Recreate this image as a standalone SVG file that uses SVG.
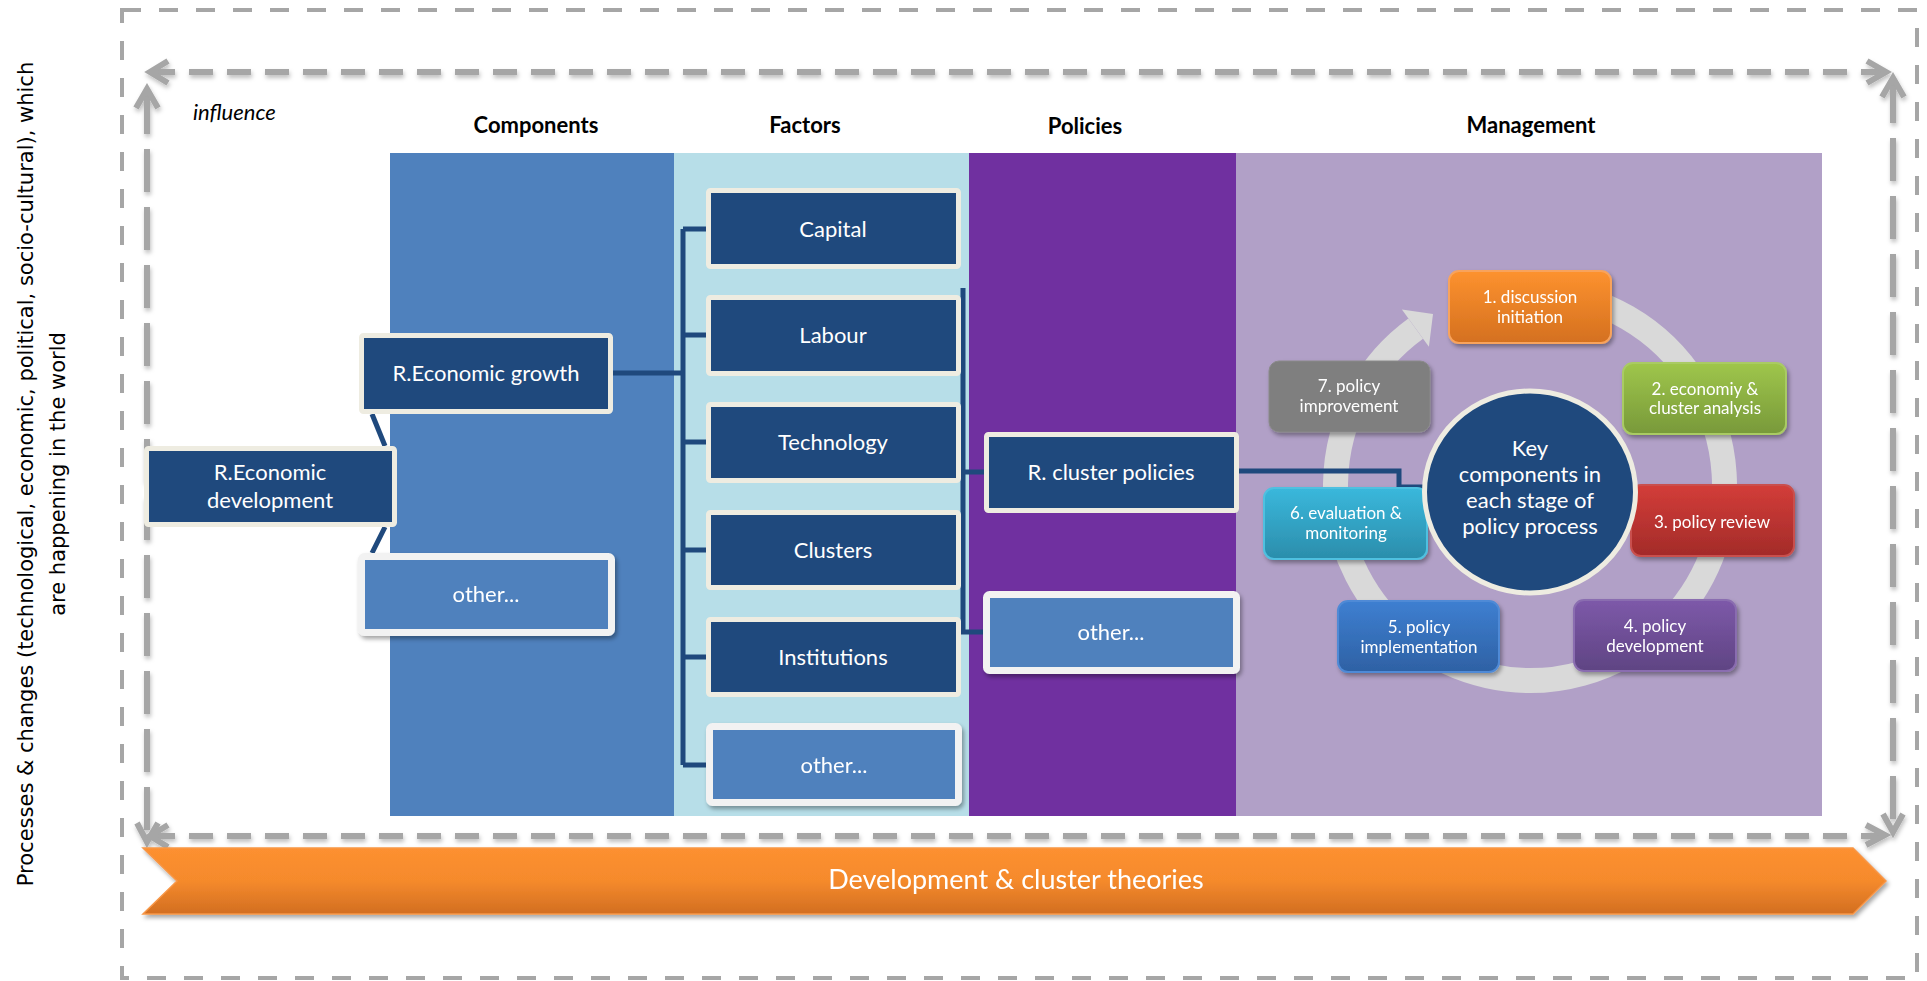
<svg xmlns="http://www.w3.org/2000/svg" width="1927" height="981" viewBox="0 0 1927 981">
<defs>
<style>
.hdr{font-family:Lato,"Liberation Sans",sans-serif;font-weight:bold;font-size:22px;fill:#000;text-anchor:middle}
.it{font-family:Lato,"Liberation Sans",sans-serif;font-style:italic;font-size:22px;fill:#000}
.nt{font-family:Lato,"Liberation Sans",sans-serif;font-size:22px;fill:#fff;text-anchor:middle}
.ct{font-family:Lato,"Liberation Sans",sans-serif;font-size:17px;fill:#fff;text-anchor:middle}
.bt{font-family:Lato,"Liberation Sans",sans-serif;font-size:27px;fill:#fff;text-anchor:middle}
.side{font-family:"DejaVu Sans",Verdana,sans-serif;font-size:21px;fill:#000;text-anchor:middle}
.dk{fill:#1f497d;stroke:#eeece1;stroke-width:5}
.ot{fill:#4f81bd;stroke:#f2f2f2;stroke-width:7}
.con{stroke:#1f497d;stroke-width:5;fill:none}
.dh{stroke:#a6a6a6;stroke-width:6;fill:none;stroke-dasharray:24 14}
.dv{stroke:#a6a6a6;stroke-width:6;fill:none;stroke-dasharray:43 15}
.ah{stroke:#a6a6a6;stroke-width:6;fill:none;stroke-linejoin:miter}
.cb{stroke-width:2}
</style>
<filter id="sh" x="-10%" y="-10%" width="120%" height="130%">
<feDropShadow dx="2" dy="3" stdDeviation="2" flood-color="#000" flood-opacity="0.35"/>
</filter>
<filter id="shl" x="-5%" y="-20%" width="110%" height="140%">
<feDropShadow dx="1" dy="3" stdDeviation="2" flood-color="#000" flood-opacity="0.25"/>
</filter>
<linearGradient id="gBand" x1="0" y1="0" x2="0" y2="1"><stop offset="0" stop-color="#fd9030"/><stop offset="0.5" stop-color="#f58a2c"/><stop offset="1" stop-color="#d26e21"/></linearGradient>
<linearGradient id="g1" x1="0" y1="0" x2="0" y2="1"><stop offset="0" stop-color="#fd922f"/><stop offset="1" stop-color="#d4701f"/></linearGradient>
<linearGradient id="g2" x1="0" y1="0" x2="0" y2="1"><stop offset="0" stop-color="#9fc64b"/><stop offset="1" stop-color="#78993a"/></linearGradient>
<linearGradient id="g3" x1="0" y1="0" x2="0" y2="1"><stop offset="0" stop-color="#d33d39"/><stop offset="1" stop-color="#a32b29"/></linearGradient>
<linearGradient id="g4" x1="0" y1="0" x2="0" y2="1"><stop offset="0" stop-color="#7d59a9"/><stop offset="1" stop-color="#5f4483"/></linearGradient>
<linearGradient id="g5" x1="0" y1="0" x2="0" y2="1"><stop offset="0" stop-color="#3e7fd1"/><stop offset="1" stop-color="#2e61a4"/></linearGradient>
<linearGradient id="g6" x1="0" y1="0" x2="0" y2="1"><stop offset="0" stop-color="#3ab8dc"/><stop offset="1" stop-color="#2b8dab"/></linearGradient>
</defs>

<rect width="1927" height="981" fill="#fff"/>

<!-- outer dashed frame -->
<rect id="frame" x="122" y="10" width="1795" height="968" fill="none" stroke="#a6a6a6" stroke-width="4" stroke-dasharray="19 18"/>

<!-- side text -->
<g id="side-text">
<text class="side" transform="translate(33,474) rotate(-90)">Processes &amp; changes (technological, economic, political, socio-cultural), which</text>
<text class="side" transform="translate(65,474) rotate(-90)">are happening in the world</text>
</g>

<!-- inner dashed influence arrows -->
<g id="influence-arrows" filter="url(#shl)">
<path class="dh" d="M151 72 H1885"/>
<path class="dh" d="M151 836 H1884"/>
<path class="dv" d="M147 91 V840"/>
<path class="dv" d="M1893 80 V830"/>
<polyline class="ah" points="168,61 150,72 168,83"/>
<polyline class="ah" points="1867,61 1886,72 1867,83"/>
<polyline class="ah" points="136,108 147,89 158,108"/>
<polyline class="ah" points="1882,97 1893,78 1904,97"/>
<polyline class="ah" points="137,823 147,842 158,823"/>
<polyline class="ah" points="1883,814 1893,832 1903,814"/>
<polyline class="ah" points="168,825 150,836 168,847"/>
<polyline class="ah" points="1866,825 1885,835 1866,845"/>
</g>
<text class="it" x="193" y="120">influence</text>

<!-- column headers -->
<text class="hdr" x="536" y="133">Components</text>
<text class="hdr" x="805" y="133">Factors</text>
<text class="hdr" x="1085" y="134">Policies</text>
<text class="hdr" x="1531" y="133">Management</text>

<!-- column backgrounds -->
<g id="columns">
<rect x="390" y="153" width="284" height="663" fill="#4f81bd"/>
<rect x="674" y="153" width="295" height="663" fill="#b7dee8"/>
<rect x="969" y="153" width="267" height="663" fill="#7030a0"/>
<rect x="1236" y="153" width="586" height="663" fill="#b1a0c7"/>
</g>

<!-- cycle ring -->
<g id="cycle-ring">
<path d="M1546.95 292.24 A194.5 194.5 0 1 1 1415.68 328.65" fill="none" stroke="#d9d9d9" stroke-width="25"/>
<polygon points="1401.9,309.6 1433,314 1428.9,346.8" fill="#d9d9d9"/>
</g>

<!-- connectors -->
<g id="connectors">
<path class="con" d="M613 373 H683"/>
<path class="con" d="M683 229 V765"/>
<path class="con" d="M683 229 H707 M683 335 H707 M683 442 H707 M683 550 H707 M683 657 H707 M683 765 H707"/>
<path class="con" d="M372 414 L385 446"/>
<path class="con" d="M385 527 L372 553"/>
<path class="con" d="M963 288 V632 H984"/>
<path class="con" d="M963 472 H985"/>
<path class="con" d="M1239 471 H1399 V487 H1423"/>
</g>

<!-- component nodes -->
<g id="n-dev"><rect class="dk" x="146.5" y="448.5" width="248" height="76" rx="2"/><text class="nt" x="270" y="480">R.Economic</text><text class="nt" x="270" y="508">development</text></g>
<g id="n-growth"><rect class="dk" x="361.5" y="335.5" width="249" height="76" rx="2"/><text class="nt" x="486" y="381">R.Economic growth</text></g>
<g id="n-comp-other" filter="url(#sh)"><rect class="ot" x="361.5" y="556.5" width="250" height="76" rx="3"/><text class="nt" x="486" y="602">other...</text></g>

<!-- factor nodes -->
<g id="n-capital"><rect class="dk" x="708.5" y="190.5" width="250" height="76" rx="2"/><text class="nt" x="833" y="237">Capital</text></g>
<g id="n-labour"><rect class="dk" x="708.5" y="297.5" width="250" height="76" rx="2"/><text class="nt" x="833" y="343">Labour</text></g>
<g id="n-technology"><rect class="dk" x="708.5" y="404.5" width="250" height="76" rx="2"/><text class="nt" x="833" y="450">Technology</text></g>
<g id="n-clusters"><rect class="dk" x="708.5" y="512.5" width="250" height="75" rx="2"/><text class="nt" x="833" y="558">Clusters</text></g>
<g id="n-institutions"><rect class="dk" x="708.5" y="619.5" width="250" height="75" rx="2"/><text class="nt" x="833" y="665">Institutions</text></g>
<g id="n-fac-other" filter="url(#sh)"><rect class="ot" x="709.5" y="726.5" width="249" height="76" rx="3"/><text class="nt" x="834" y="773">other...</text></g>

<!-- policy nodes -->
<g id="n-cluster-policies"><rect class="dk" x="986.5" y="434.5" width="250" height="76" rx="2"/><text class="nt" x="1111" y="480">R. cluster policies</text></g>
<g id="n-pol-other" filter="url(#sh)"><rect class="ot" x="986.5" y="594.5" width="250" height="76" rx="3"/><text class="nt" x="1111" y="640">other...</text></g>

<!-- management cycle nodes -->
<g id="n-step1" filter="url(#sh)"><rect class="cb" x="1449" y="271" width="162" height="72" rx="10" fill="url(#g1)" stroke="#f8a35c"/><text class="ct" x="1530" y="303">1. discussion</text><text class="ct" x="1530" y="323">initiation</text></g>
<g id="n-step2" filter="url(#sh)"><rect class="cb" x="1623" y="363" width="163" height="71" rx="10" fill="url(#g2)" stroke="#a9cb63"/><text class="ct" x="1705" y="395">2. economiy &amp;</text><text class="ct" x="1705" y="414">cluster analysis</text></g>
<g id="n-step3" filter="url(#sh)"><rect class="cb" x="1631" y="485" width="163" height="71" rx="10" fill="url(#g3)" stroke="#c9504d"/><text class="ct" x="1712" y="528">3. policy review</text></g>
<g id="n-step4" filter="url(#sh)"><rect class="cb" x="1574" y="600" width="162" height="71" rx="10" fill="url(#g4)" stroke="#8a6db0"/><text class="ct" x="1655" y="632">4. policy</text><text class="ct" x="1655" y="652">development</text></g>
<g id="n-step5" filter="url(#sh)"><rect class="cb" x="1338" y="601" width="161" height="71" rx="10" fill="url(#g5)" stroke="#4f8ad6"/><text class="ct" x="1419" y="633">5. policy</text><text class="ct" x="1419" y="653">implementation</text></g>
<g id="n-step6" filter="url(#sh)"><rect class="cb" x="1264" y="488" width="163" height="71" rx="10" fill="url(#g6)" stroke="#4fc0e0"/><text class="ct" x="1346" y="519">6. evaluation &amp;</text><text class="ct" x="1346" y="539">monitoring</text></g>
<g id="n-step7" filter="url(#sh)"><rect x="1269" y="361" width="161" height="71" rx="10" fill="#7f7f7f" stroke="#8a8a8a" stroke-width="1"/><text class="ct" x="1349" y="392">7. policy</text><text class="ct" x="1349" y="412">improvement</text></g>

<g id="n-key"><ellipse cx="1530" cy="492" rx="105.5" ry="101" fill="#1f497d" stroke="#eeece1" stroke-width="5"/>
<text class="nt" x="1530" y="456">Key</text><text class="nt" x="1530" y="482">components in</text><text class="nt" x="1530" y="508">each stage of</text><text class="nt" x="1530" y="534">policy process</text></g>

<!-- theory band -->
<g id="n-theories" filter="url(#sh)"><polygon points="143,848 1853,848 1886,881 1853,914 143,914 177,881" fill="url(#gBand)" stroke="#f79646" stroke-width="1.5"/>
<text class="bt" x="1016" y="889">Development &amp; cluster theories</text></g>
</svg>
